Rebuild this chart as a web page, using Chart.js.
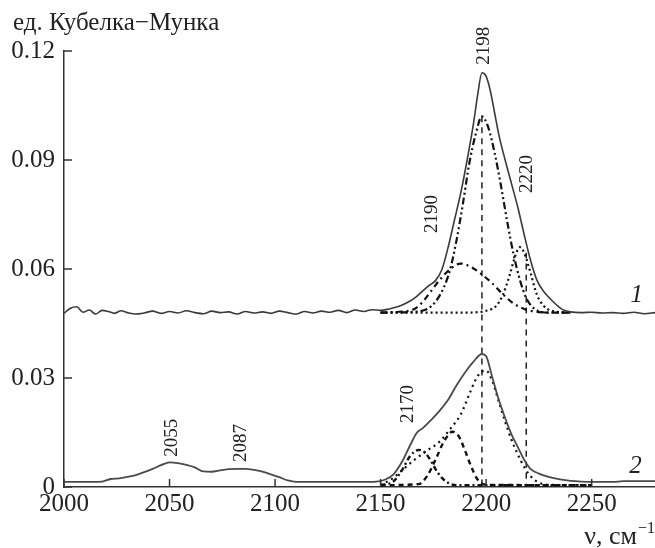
<!DOCTYPE html>
<html>
<head>
<meta charset="utf-8">
<script src="https://cdn.jsdelivr.net/npm/chart.js@4"></script>
<style>
  body { margin: 0; background: #fff; }
  canvas { display: block; }
</style>
</head>
<body>
<canvas id="kmChart" width="655" height="548"></canvas>
<script>
// axes
const xTicks = [2000, 2050, 2100, 2150, 2200, 2250];
const xTickLabels = ['2000', '2050', '2100', '2150', '2200', '2250'];
const yTicks = [0, 0.03, 0.06, 0.09, 0.12];
const yTickLabels = ['0', '0.03', '0.06', '0.09', '0.12'];
const yTitle = 'ед. Кубелка\u2212Мунка';

// spectrum 1 (total)
const nu1 = [2000,2003,2006,2009,2012,2015,2018,2021,2024,2027,2030,2034,2038,2042,2046,2050,2054,2058,2062,2066,
  2070,2074,2078,2082,2086,2090,2094,2098,2102,2106,2110,2114,2118,2122,2126,2130,2134,2138,2142,2146,
  2150,2154,2158,2161,2164,2167,2170,2173,2176,2179,2182,2185,2188,2191,2194,2196,2198,2200,2202,2204,
  2206,2209,2212,2215,2218,2221,2224,2227,2230,2233,2236,2240,2245,2250,2255,2260,2265,2270,2275,2280];
const km1 = [0.0478,0.0492,0.0496,0.0481,0.0487,0.0476,0.0486,0.0483,0.0478,0.0485,0.0480,0.0476,0.0479,0.0484,0.0478,0.0483,0.0479,0.0485,0.0480,0.0477,
  0.0484,0.0480,0.0482,0.0476,0.0483,0.0479,0.0482,0.0478,0.0484,0.0480,0.0476,0.0483,0.0479,0.0484,0.0481,0.0486,0.0480,0.0487,0.0483,0.0488,
  0.0486,0.0490,0.0496,0.0503,0.0512,0.0524,0.0540,0.0555,0.0568,0.0598,0.0660,0.0735,0.0810,0.0900,0.1000,0.1080,0.1140,0.1130,0.1090,0.1030,
  0.0970,0.0900,0.0835,0.0770,0.0695,0.0625,0.0570,0.0540,0.0520,0.0503,0.0489,0.0482,0.0480,0.0481,0.0479,0.0480,0.0478,0.0481,0.0477,0.0480];

// spectrum 1 components
const nu1a = [2150,2165,2172,2176,2180,2183,2186,2189,2192,2195,2198,2201,2204,2207,2210,2213,2216,2219,2223,2230,2240];
const km1a = [0.048,0.0482,0.049,0.051,0.055,0.060,0.068,0.078,0.089,0.097,0.102,0.099,0.092,0.083,0.073,0.064,0.057,0.052,0.049,0.048,0.048];
const nu1b = [2150,2160,2166,2170,2174,2178,2183,2188,2193,2198,2203,2208,2213,2218,2224,2232,2240];
const km1b = [0.048,0.0483,0.049,0.051,0.054,0.057,0.0600,0.0615,0.0605,0.0585,0.0560,0.0530,0.0505,0.0490,0.0482,0.048,0.048];
const nu1c = [2150,2190,2200,2205,2208,2211,2214,2216,2218,2221,2224,2227,2231,2240];
const km1c = [0.048,0.048,0.0485,0.050,0.053,0.058,0.064,0.066,0.0645,0.059,0.053,0.050,0.0485,0.048];

// spectrum 2 (total)
const nu2 = [2000,2010,2018,2022,2026,2030,2034,2038,2042,2046,2050,2054,2058,2062,2066,2070,2074,2078,2082,2086,
  2090,2094,2098,2102,2106,2110,2120,2130,2140,2148,2152,2156,2160,2164,2167,2170,2174,2178,2182,2186,
  2190,2194,2198,2200,2203,2206,2209,2212,2215,2218,2221,2225,2230,2235,2240,2245,2250,2255,2260,2265,2270,2280];
const km2 = [0.0014,0.0014,0.0015,0.0022,0.0024,0.0028,0.0033,0.0041,0.0050,0.0060,0.0068,0.0066,0.0061,0.0054,0.0043,0.0042,0.0046,0.0049,0.0050,0.0050,
  0.0047,0.0042,0.0035,0.0027,0.0018,0.0014,0.0014,0.0014,0.0014,0.0015,0.0020,0.0034,0.0068,0.0115,0.0148,0.0162,0.0185,0.0210,0.0240,0.0280,
  0.0315,0.0345,0.0366,0.0360,0.0300,0.0240,0.0190,0.0145,0.0110,0.0075,0.0050,0.0037,0.0027,0.0021,0.0017,0.0015,0.0014,0.0014,0.0014,0.0016,0.0016,0.0016];

// spectrum 2 components
const nu2a = [2150,2156,2160,2164,2168,2171,2174,2177,2181,2186,2250];
const km2a = [0.0005,0.0015,0.0045,0.0085,0.0102,0.0095,0.0070,0.0040,0.0015,0.0005,0.0005];
const nu2b = [2150,2168,2172,2176,2180,2184,2187,2190,2193,2196,2200,2250];
const km2b = [0.0005,0.0008,0.0030,0.0075,0.0125,0.0152,0.0140,0.0100,0.0055,0.0020,0.0006,0.0005];
const nu2c = [2150,2156,2160,2166,2172,2178,2183,2188,2192,2195,2198,2200,2203,2206,2209,2212,2215,2218,2221,2225,2230,2250];
const km2c = [0.0005,0.0025,0.0045,0.0075,0.0100,0.0125,0.0160,0.0200,0.0255,0.0295,0.0318,0.0320,0.0290,0.0235,0.0180,0.0130,0.0090,0.0055,0.0030,0.0012,0.0006,0.0005];

// marker lines
const mark1 = [2198, 2198];
const markKm1 = [0.102, 0];
const mark2 = [2219, 2219];
const markKm2 = [0.0645, 0];

// peak labels (rotated) and curve numbers
const peakLabels = ['2198', '2220', '2190', '2170', '2055', '2087'];
const peakNu = [2198.9, 2219.2, 2174.2, 2162.9, 2051.1, 2083.8];
const peakKm = [0.1162, 0.0809, 0.0699, 0.0176, 0.0083, 0.0069];
const curveNames = ['1', '2'];
const curveNu = [2271.3, 2270.8];
const curveKm = [0.0528, 0.0058];

const pts = (xs, ys) => xs.map((v, i) => ({ x: v, y: ys[i] }));

function line(data, color, width, dash) {
  return {
    data: data,
    borderColor: color,
    borderWidth: width,
    borderDash: dash,
    pointRadius: 0,
    fill: false,
    cubicInterpolationMode: 'monotone'
  };
}

const serif = '"Liberation Serif", "Times New Roman", serif';

// axes text, inward ticks and annotations
const extras = {
  id: 'extras',
  afterDraw(chart) {
    const { ctx, scales: { x, y } } = chart;
    ctx.save();
    ctx.strokeStyle = '#333';
    ctx.lineWidth = 1.5;
    ctx.beginPath();
    yTicks.forEach(v => {
      const py = y.getPixelForValue(v);
      ctx.moveTo(x.left, py);
      ctx.lineTo(x.left + 8, py);
    });
    xTicks.forEach(v => {
      const px = x.getPixelForValue(v);
      ctx.moveTo(px, y.bottom);
      ctx.lineTo(px, y.bottom - 8);
    });
    ctx.stroke();

    ctx.fillStyle = '#222';
    ctx.font = '25px ' + serif;
    ctx.textAlign = 'left';
    ctx.textBaseline = 'alphabetic';
    ctx.fillText(yTitle, 13, 30);

    // x axis title
    ctx.font = '16px ' + serif;
    ctx.textAlign = 'right';
    ctx.fillText('\u22121', 655, 533);
    const supW = ctx.measureText('\u22121').width;
    ctx.font = '26px ' + serif;
    ctx.fillText('\u03bd, см', 655 - supW - 1, 544);

    ctx.font = '19px ' + serif;
    ctx.textAlign = 'left';
    ctx.textBaseline = 'middle';
    peakLabels.forEach((t, i) => {
      ctx.save();
      ctx.translate(x.getPixelForValue(peakNu[i]), y.getPixelForValue(peakKm[i]));
      ctx.rotate(-Math.PI / 2);
      ctx.fillText(t, 0, 0);
      ctx.restore();
    });

    ctx.font = 'italic 25px ' + serif;
    ctx.textAlign = 'center';
    curveNames.forEach((t, i) => {
      ctx.fillText(t, x.getPixelForValue(curveNu[i]), y.getPixelForValue(curveKm[i]));
    });
    ctx.restore();
  }
};

new Chart(document.getElementById('kmChart'), {
  type: 'line',
  data: {
    datasets: [
      line(pts(nu1, km1), '#3a3a3a', 1.6, []),
      line(pts(nu1a, km1a), '#111', 2.2, [7, 3, 2, 3, 2, 3]),
      line(pts(nu1b, km1b), '#111', 2.2, [6, 4, 2, 4]),
      line(pts(nu1c, km1c), '#111', 2.2, [2, 3]),
      line(pts(nu2, km2), '#4a4a4a', 1.8, []),
      line(pts(nu2a, km2a), '#111', 2.4, [5, 3, 2, 3]),
      line(pts(nu2b, km2b), '#111', 2.4, [5, 4]),
      line(pts(nu2c, km2c), '#111', 2.2, [2, 4]),
      line(pts(mark1, markKm1), '#222', 1.5, [6, 5]),
      line(pts(mark2, markKm2), '#222', 1.5, [6, 5])
    ]
  },
  options: {
    responsive: false,
    animation: false,
    layout: { padding: { top: 51, right: 0, left: 0, bottom: 0 } },
    plugins: { legend: { display: false }, tooltip: { enabled: false } },
    scales: {
      x: {
        type: 'linear',
        min: 2000,
        max: 2280,
        afterBuildTicks: s => { s.ticks = xTicks.map(v => ({ value: v })); },
        afterFit: s => { s.height = 61; },
        ticks: {
          color: '#222',
          font: { family: serif, size: 25 },
          padding: 2,
          maxRotation: 0,
          callback: v => xTickLabels[xTicks.indexOf(v)]
        },
        grid: { display: true, drawOnChartArea: false, drawTicks: false },
        border: { display: true, color: '#333', width: 1.5 }
      },
      y: {
        min: 0,
        max: 0.12,
        afterBuildTicks: s => { s.ticks = yTicks.map(v => ({ value: v })); },
        afterFit: s => { s.width = 64; },
        ticks: {
          color: '#222',
          font: { family: serif, size: 25 },
          padding: 9,
          callback: v => yTickLabels[yTicks.indexOf(v)]
        },
        grid: { display: true, drawOnChartArea: false, drawTicks: false },
        border: { display: true, color: '#333', width: 1.5 }
      }
    }
  },
  plugins: [extras]
});
</script>
</body>
</html>
